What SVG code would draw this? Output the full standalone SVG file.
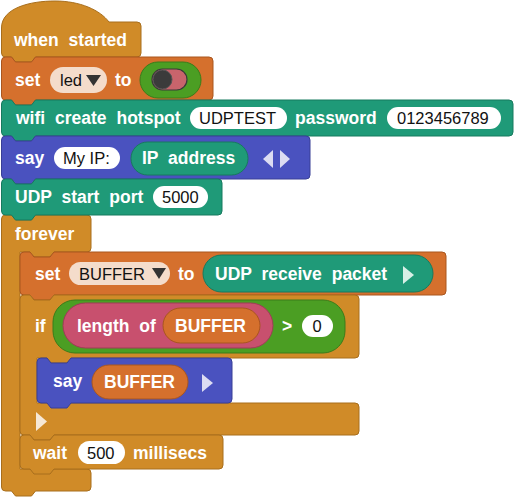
<svg xmlns="http://www.w3.org/2000/svg" width="515" height="498" viewBox="0 0 515 498">
<style>
.l{font-family:"Liberation Sans",Arial,sans-serif;font-weight:bold;font-size:17.5px;fill:#fff;word-spacing:5px}
.v{font-family:"Liberation Sans",Arial,sans-serif;font-size:16.5px;fill:#111}
.gold{fill:#d08b28;stroke:#a86e1c;stroke-width:1}
.orange{fill:#d5702d;stroke:#a9561f;stroke-width:1}
.teal{fill:#1f9a78;stroke:#177a5e;stroke-width:1}
.blue{fill:#4a52bf;stroke:#383f96;stroke-width:1}
.green{fill:#4b9e23;stroke:#3a7c1a;stroke-width:1}
.pink{fill:#c8506e;stroke:#9e3d56;stroke-width:1}
.pill{fill:#fff}
.var{fill:#f4dccb}
</style>
<rect width="515" height="498" fill="#fff"/>

<g id="forever">
<path class="gold" d="M 1.5,219 Q 1.5,215 5.5,215 H 11.5 L 15.5,220 H 31.5 L 35.5,215 H 87 Q 91,215 91,219 V 248 Q 91,252 87,252 H 54 L 50,257 H 34 L 30,252 H 20 V 469 H 87 Q 91,469 91,473 V 487 Q 91,491 87,491 H 35.5 L 31.5,496 H 15.5 L 11.5,491 H 5.5 Q 1.5,491 1.5,487 Z"/>
<text class="l" x="15" y="240">forever</text>
</g>

<g id="when-started">
<path class="gold" d="M 1.5,53 V 28 C 1.5,8 30,1 55,1 C 80,1 100,10 109,22 H 137 Q 141,22 141,26 V 53 Q 141,57 137,57 H 35.5 L 31.5,62 H 15.5 L 11.5,57 H 5.5 Q 1.5,57 1.5,53 Z"/>
<text class="l" x="14" y="46">when started</text>
</g>

<g id="set-led">
<path class="orange" d="M 1.5,61 Q 1.5,57 5.5,57 H 11.5 L 15.5,62 H 31.5 L 35.5,57 H 209 Q 213,57 213,61 V 96 Q 213,100 209,100 H 35.5 L 31.5,105 H 15.5 L 11.5,100 H 5.5 Q 1.5,100 1.5,96 Z"/>
<text class="l" x="15" y="86">set</text>
<rect class="var" x="50" y="67" width="57" height="26" rx="13"/>
<text class="v" x="60" y="86">led</text>
<polygon points="86,75 101,75 93.5,86" fill="#333"/>
<text class="l" x="115" y="86">to</text>
<rect class="green" x="140" y="62" width="61" height="36" rx="18"/>
<rect x="152" y="69" width="35" height="21" rx="10.5" fill="#c8646c" stroke="#3a3a3a" stroke-width="1.2"/>
<circle cx="162.5" cy="79.5" r="9.5" fill="#3b3b3b" stroke="#555" stroke-width="1"/>
</g>

<g id="wifi-hotspot">
<path class="teal" d="M 1.5,104 Q 1.5,100 5.5,100 H 11.5 L 15.5,105 H 31.5 L 35.5,100 H 509 Q 513,100 513,104 V 132 Q 513,136 509,136 H 35.5 L 31.5,141 H 15.5 L 11.5,136 H 5.5 Q 1.5,136 1.5,132 Z"/>
<text class="l" x="16" y="124">wifi create hotspot</text>
<rect class="pill" x="190" y="107" width="97" height="22" rx="11"/>
<text class="v" x="199" y="124">UDPTEST</text>
<text class="l" x="295" y="124">password</text>
<rect class="pill" x="387" y="107" width="114" height="22" rx="11"/>
<text class="v" x="397" y="124">0123456789</text>
</g>

<g id="say-ip">
<path class="blue" d="M 1.5,140 Q 1.5,136 5.5,136 H 11.5 L 15.5,141 H 31.5 L 35.5,136 H 306 Q 310,136 310,140 V 175 Q 310,179 306,179 H 35.5 L 31.5,184 H 15.5 L 11.5,179 H 5.5 Q 1.5,179 1.5,175 Z"/>
<text class="l" x="15" y="164">say</text>
<rect class="pill" x="54" y="147" width="66" height="22" rx="11"/>
<text class="v" x="63" y="164">My IP:</text>
<rect class="teal" x="131" y="142" width="117" height="33" rx="16.5"/>
<text class="l" x="142" y="164">IP address</text>
<polygon points="273,150 273,168 263,159" fill="#dcdcf2"/>
<polygon points="280,150 280,168 290,159" fill="#dcdcf2"/>
</g>

<g id="udp-start">
<path class="teal" d="M 1.5,183 Q 1.5,179 5.5,179 H 11.5 L 15.5,184 H 31.5 L 35.5,179 H 218 Q 222,179 222,183 V 211 Q 222,215 218,215 H 35.5 L 31.5,220 H 15.5 L 11.5,215 H 5.5 Q 1.5,215 1.5,211 Z"/>
<text class="l" x="15" y="203">UDP start port</text>
<rect class="pill" x="153" y="186" width="55" height="22" rx="11"/>
<text class="v" x="162" y="203">5000</text>
</g>

<g id="set-buffer">
<path class="orange" d="M 20,256 Q 20,252 24,252 H 30 L 34,257 H 50 L 54,252 H 442 Q 446,252 446,256 V 291 Q 446,295 442,295 H 54 L 50,300 H 34 L 30,295 H 24 Q 20,295 20,291 Z"/>
<text class="l" x="35" y="280">set</text>
<rect class="var" x="69" y="262" width="101" height="23" rx="11.5"/>
<text class="v" x="79" y="280">BUFFER</text>
<polygon points="152,268 166,268 159,279" fill="#333"/>
<text class="l" x="178" y="280">to</text>
<rect class="teal" x="203" y="255" width="230" height="37" rx="18.5"/>
<text class="l" x="215" y="280">UDP receive packet</text>
<polygon points="403,266 403,284 414,275" fill="#d7efe6"/>
</g>

<g id="if-block">
<path class="gold" d="M 20,299 Q 20,295 24,295 H 30 L 34,300 H 50 L 54,295 H 355 Q 359,295 359,299 V 354 Q 359,358 355,358 H 71 L 67,363 H 51 L 47,358 H 37 V 403 H 355 Q 359,403 359,407 V 431 Q 359,435 355,435 H 54 L 50,440 H 34 L 30,435 H 24 Q 20,435 20,431 Z"/>
<text class="l" x="35" y="332">if</text>
<rect class="green" x="53" y="300" width="292" height="53" rx="22"/>
<rect class="pink" x="63" y="303" width="210" height="45" rx="22.5"/>
<text class="l" x="77" y="332">length of</text>
<rect class="orange" x="163" y="308" width="97" height="35" rx="17.5"/>
<text class="l" x="175" y="332">BUFFER</text>
<text class="l" x="282" y="332">&gt;</text>
<rect class="pill" x="302" y="315" width="31" height="22" rx="11"/>
<text class="v" x="312.5" y="332">0</text>
<polygon points="36,412 36,431 47,421.5" fill="#f6e8d6"/>
</g>

<g id="say-buffer">
<path class="blue" d="M 37,362 Q 37,358 41,358 H 47 L 51,363 H 67 L 71,358 H 228 Q 232,358 232,362 V 399 Q 232,403 228,403 H 71 L 67,408 H 51 L 47,403 H 41 Q 37,403 37,399 Z"/>
<text class="l" x="53" y="387">say</text>
<rect class="orange" x="92" y="365" width="96" height="34" rx="17"/>
<text class="l" x="104" y="388">BUFFER</text>
<polygon points="202,374 202,392 213,383" fill="#dcdcf2"/>
</g>

<g id="wait">
<path class="gold" d="M 20,439 Q 20,435 24,435 H 30 L 34,440 H 50 L 54,435 H 219 Q 223,435 223,439 V 465 Q 223,469 219,469 H 54 L 50,474 H 34 L 30,469 H 24 Q 20,469 20,465 Z"/>
<text class="l" x="33" y="459">wait</text>
<rect class="pill" x="78" y="441" width="47" height="23" rx="11.5"/>
<text class="v" x="87" y="459">500</text>
<text class="l" x="133" y="459">millisecs</text>
</g>
</svg>
